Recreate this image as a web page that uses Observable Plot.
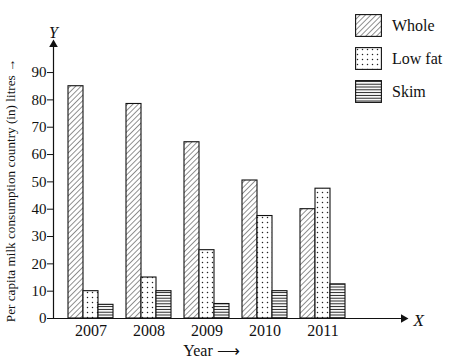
<!DOCTYPE html>
<html>
<head>
<meta charset="utf-8">
<script src="https://cdn.jsdelivr.net/npm/d3@7"></script>
<script src="https://cdn.jsdelivr.net/npm/@observablehq/plot@0.6"></script>
<style>
  html, body { margin: 0; padding: 0; background: #fff; }
  #wrap { position: relative; width: 450px; height: 360px; font-family: "Liberation Serif", "Times New Roman", Times, serif; }
  #wrap svg text { font-family: "Liberation Serif", "Times New Roman", Times, serif; }
  #legend { position: absolute; left: 355px; top: 14px; }
  .item { display: flex; align-items: center; height: 23px; margin-bottom: 10px; }
  .item svg { margin-right: 10px; }
  .item span { font-size: 16px; color: #111; font-family: "Liberation Serif", "Times New Roman", Times, serif; }
</style>
</head>
<body>
<svg width="0" height="0" style="position:absolute">
  <defs>
    <pattern id="pat-whole" patternUnits="userSpaceOnUse" width="3.8" height="3.8" patternTransform="rotate(45)">
      <rect width="3.8" height="3.8" fill="#fff"/>
      <line x1="0" y1="-1" x2="0" y2="6" stroke="#222" stroke-width="1"/>
    </pattern>
    <pattern id="pat-low" patternUnits="userSpaceOnUse" width="5" height="5">
      <rect width="5" height="5" fill="#fff"/>
      <circle cx="2.5" cy="2.5" r="0.75" fill="#222"/>
    </pattern>
    <pattern id="pat-skim" patternUnits="userSpaceOnUse" width="6" height="2.8">
      <rect width="6" height="2.8" fill="#fff"/>
      <line x1="0" y1="1.4" x2="6" y2="1.4" stroke="#222" stroke-width="1"/>
    </pattern>
  </defs>
</svg>
<div id="wrap"></div>
<script>
const years = ["2007", "2008", "2009", "2010", "2011"];
const whole = [85, 78.5, 64.5, 50.5, 40];
const lowFat = [10, 15, 25, 37.5, 47.5];
const skim = [5, 10, 5.3, 10, 12.5];
const seriesNames = ["Whole", "Low fat", "Skim"];
const yTicks = [0, 10, 20, 30, 40, 50, 60, 70, 80, 90];
const yMax = 101;
const yLabel = "Per capita milk consumption country (in) litres \u2192";
const xLabel = "Year \u27F6";

const rows = (vals) => years.map((y, i) => ({year: y, value: vals[i]}));
const font = "'Liberation Serif', 'Times New Roman', Times, serif";
const barStyle = {stroke: "#111", strokeWidth: 1.1};

const chart = Plot.plot({
  width: 450,
  height: 360,
  marginLeft: 53,
  marginRight: 45,
  marginTop: 42,
  marginBottom: 42,
  style: {fontFamily: font, background: "transparent", color: "#111"},
  x: {type: "band", domain: years, range: [67, 345], paddingInner: 0.228, paddingOuter: 0},
  y: {domain: [0, yMax]},
  marks: [
    Plot.barY(rows(whole), {x: "year", y: "value", fill: "url(#pat-whole)", insetLeft: 0, insetRight: 30, ...barStyle}),
    Plot.barY(rows(lowFat), {x: "year", y: "value", fill: "url(#pat-low)", insetLeft: 15, insetRight: 15, ...barStyle}),
    Plot.barY(rows(skim), {x: "year", y: "value", fill: "url(#pat-skim)", insetLeft: 30, insetRight: 0, ...barStyle}),
    Plot.axisX({tickSize: 0, tickPadding: 6, fontSize: 16, label: null}),
    Plot.axisY({ticks: yTicks, tickSize: 6, tickPadding: 1, fontSize: 15, label: null}),
    Plot.ruleY([0], {stroke: "#111", strokeWidth: 1.2}),
    Plot.frame({anchor: "left", stroke: "#111", strokeWidth: 1.2}),
    Plot.dot([yMax], {y: d => d, frameAnchor: "left", symbol: "triangle", r: 3.2, fill: "#111", stroke: null, dy: 2}),
    Plot.dot([0], {y: d => d, frameAnchor: "right", symbol: "triangle", r: 3.2, fill: "#111", stroke: null, rotate: 90, dx: -2}),
    Plot.text(["Y"], {y: () => yMax, frameAnchor: "left", textAnchor: "middle", dy: -10, text: d => d, fontSize: 16, fontStyle: "italic"}),
    Plot.text(["X"], {y: () => 0, frameAnchor: "right", textAnchor: "start", dx: 8, dy: 2, text: d => d, fontSize: 17, fontStyle: "italic"}),
    Plot.text([yLabel], {frameAnchor: "left", textAnchor: "middle", lineAnchor: "middle", rotate: -90, dx: -43, dy: 10, text: d => d, fontSize: 13.2}),
    Plot.text([xLabel], {frameAnchor: "bottom", textAnchor: "middle", lineAnchor: "middle", dx: -18, dy: 32, text: d => d, fontSize: 16})
  ]
});

const wrap = document.getElementById("wrap");
wrap.appendChild(chart);

const legend = document.createElement("div");
legend.id = "legend";
const pats = ["pat-whole", "pat-low", "pat-skim"];
seriesNames.forEach((name, i) => {
  const item = document.createElement("div");
  item.className = "item";
  item.innerHTML = `<svg width="27" height="23"><rect x="0.6" y="0.6" width="25.8" height="21.8" fill="url(#${pats[i]})" stroke="#111" stroke-width="1.1"/></svg><span>${name}</span>`;
  legend.appendChild(item);
});
wrap.appendChild(legend);
</script>
</body>
</html>
